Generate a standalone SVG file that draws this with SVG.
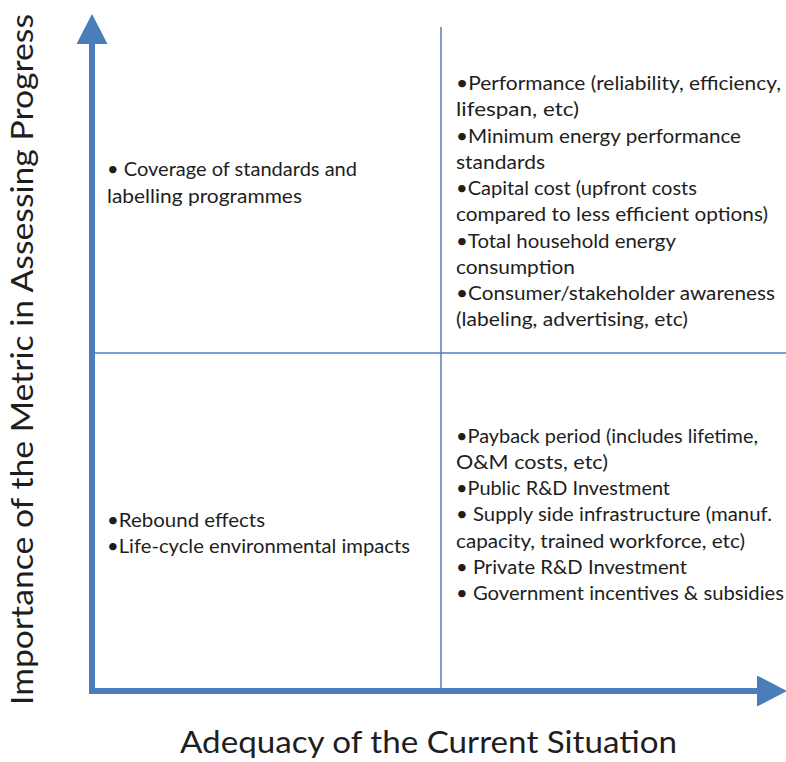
<svg xmlns="http://www.w3.org/2000/svg" width="786" height="762" viewBox="0 0 786 762">
<defs>
<style>
.grid{stroke:#4F81BD;stroke-width:1.5;fill:none}
.axis{stroke:#4A7EBB;stroke-width:6;fill:none;stroke-linejoin:miter}
.t{font-family:Lato,"Liberation Sans",sans-serif;font-size:18.5px;fill:#1e1e1e}
.lab{font-family:Lato,"Liberation Sans",sans-serif;font-size:31px;fill:#1e1e1e}
</style>
<marker id="arr" markerUnits="userSpaceOnUse" markerWidth="30" markerHeight="31" refX="0" refY="15.5" orient="auto-start-reverse" viewBox="0 0 30 31">
<path d="M0,0 L30,15.5 L0,31 z" fill="#4A7EBB"/>
</marker>
</defs>
<rect width="786" height="762" fill="#fff"/>
<g id="connectors">
<line class="grid" x1="441" y1="27" x2="441" y2="691"/>
<line class="grid" x1="92" y1="353" x2="786" y2="353"/>
<path id="axes" class="axis" d="M92,44 L92,691 L757,691" marker-start="url(#arr)" marker-end="url(#arr)"/>
</g>
<g id="top-left">
<text class="t" x="107" y="176" textLength="250" lengthAdjust="spacingAndGlyphs">• Coverage of standards and</text>
<text class="t" x="107" y="203" textLength="195" lengthAdjust="spacingAndGlyphs">labelling programmes</text>
</g>
<g id="bottom-left">
<text class="t" x="107" y="527" textLength="158" lengthAdjust="spacingAndGlyphs">•Rebound effects</text>
<text class="t" x="107" y="553" textLength="303" lengthAdjust="spacingAndGlyphs">•Life-cycle environmental impacts</text>
</g>
<g id="top-right">
<text class="t" x="456" y="90" textLength="325" lengthAdjust="spacingAndGlyphs">•Performance (reliability, efficiency,</text>
<text class="t" x="456" y="116" textLength="123" lengthAdjust="spacingAndGlyphs">lifespan, etc)</text>
<text class="t" x="456" y="142.5" textLength="285" lengthAdjust="spacingAndGlyphs">•Minimum energy performance</text>
<text class="t" x="456" y="168.5" textLength="89" lengthAdjust="spacingAndGlyphs">standards</text>
<text class="t" x="456" y="195" textLength="241" lengthAdjust="spacingAndGlyphs">•Capital cost (upfront costs</text>
<text class="t" x="456" y="221" textLength="312" lengthAdjust="spacingAndGlyphs">compared to less efficient options)</text>
<text class="t" x="456" y="247.5" textLength="220" lengthAdjust="spacingAndGlyphs">•Total household energy</text>
<text class="t" x="456" y="273.5" textLength="119" lengthAdjust="spacingAndGlyphs">consumption</text>
<text class="t" x="456" y="300" textLength="319" lengthAdjust="spacingAndGlyphs">•Consumer/stakeholder awareness</text>
<text class="t" x="456" y="326" textLength="232" lengthAdjust="spacingAndGlyphs">(labeling, advertising, etc)</text>
</g>
<g id="bottom-right">
<text class="t" x="456" y="442.5" textLength="302" lengthAdjust="spacingAndGlyphs">•Payback period (includes lifetime,</text>
<text class="t" x="456" y="468.5" textLength="152" lengthAdjust="spacingAndGlyphs">O&amp;M costs, etc)</text>
<text class="t" x="456" y="494.5" textLength="214" lengthAdjust="spacingAndGlyphs">•Public R&amp;D Investment</text>
<text class="t" x="456" y="521" textLength="316" lengthAdjust="spacingAndGlyphs">• Supply side infrastructure (manuf.</text>
<text class="t" x="456" y="547.5" textLength="289" lengthAdjust="spacingAndGlyphs">capacity, trained workforce, etc)</text>
<text class="t" x="456" y="574" textLength="231" lengthAdjust="spacingAndGlyphs">• Private R&amp;D Investment</text>
<text class="t" x="456" y="599.5" textLength="328" lengthAdjust="spacingAndGlyphs">• Government incentives &amp; subsidies</text>
</g>
<g id="x-label">
<text class="lab" x="180" y="753" textLength="497" lengthAdjust="spacingAndGlyphs">Adequacy of the Current Situation</text>
</g>
<g id="y-label">
<text class="lab" transform="translate(33,705) rotate(-90)" x="0" y="0" textLength="691" lengthAdjust="spacingAndGlyphs">Importance of the Metric in Assessing Progress</text>
</g>
</svg>
